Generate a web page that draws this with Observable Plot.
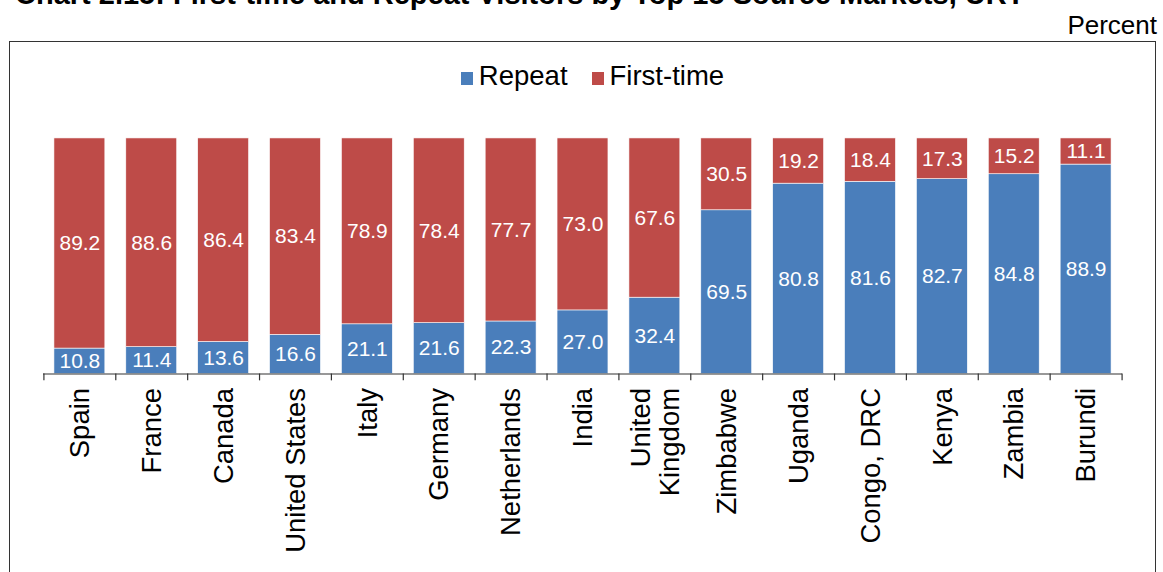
<!DOCTYPE html>
<html>
<head>
<meta charset="utf-8">
<script src="https://cdn.jsdelivr.net/npm/d3@7"></script>
<script src="https://cdn.jsdelivr.net/npm/@observablehq/plot@0.6"></script>
<style>
  html, body { margin: 0; padding: 0; background: #fff; }
  body { width: 1163px; height: 572px; position: relative; overflow: hidden; font-family: "Liberation Sans", Arial, Helvetica, sans-serif; }
  #title { position: absolute; left: 15px; top: -20px; font-size: 29px; line-height: 29px; font-weight: bold; white-space: nowrap; color: #000; }
  #unit { position: absolute; right: 6px; top: 10px; font-size: 26px; line-height: 30px; color: #000; }
  #frame { position: absolute; left: 9px; top: 41px; width: 1147px; height: 560px; border: 1.5px solid #333; box-sizing: border-box; }
  #legend { position: absolute; left: 10px; top: 19px; width: 100%; display: flex; justify-content: center; align-items: baseline; font-size: 27.5px; line-height: 30px; }
  #legend .item { display: flex; align-items: baseline; margin: 0 12px; }
  #legend .sw { display: inline-block; width: 12px; height: 13px; margin-right: 6px; }
  #chart { position: absolute; left: 1px; top: 58px; }
</style>
</head>
<body>
<div id="title">Chart 2.15: First-time and Repeat Visitors by Top 15 Source Markets, URT</div>
<div id="unit">Percent</div>
<div id="frame">
  <div id="legend"></div>
  <div id="chart"></div>
</div>
<script>
const countries = ["Spain", "France", "Canada", "United States", "Italy", "Germany", "Netherlands", "India", "United Kingdom", "Zimbabwe", "Uganda", "Congo, DRC", "Kenya", "Zambia", "Burundi"];
const axisLabels = ["Spain", "France", "Canada", "United States", "Italy", "Germany", "Netherlands", "India", "United\nKingdom", "Zimbabwe", "Uganda", "Congo, DRC", "Kenya", "Zambia", "Burundi"];
const repeat = [10.8, 11.4, 13.6, 16.6, 21.1, 21.6, 22.3, 27.0, 32.4, 69.5, 80.8, 81.6, 82.7, 84.8, 88.9];
const firstTime = [89.2, 88.6, 86.4, 83.4, 78.9, 78.4, 77.7, 73.0, 67.6, 30.5, 19.2, 18.4, 17.3, 15.2, 11.1];
const seriesNames = ["Repeat", "First-time"];
const seriesColors = ["#4a7ebb", "#be4b48"];

const rows = [];
countries.forEach((c, i) => rows.push({country: c, series: "Repeat", value: repeat[i], mid: repeat[i] / 2}));
countries.forEach((c, i) => rows.push({country: c, series: "First-time", value: firstTime[i], mid: repeat[i] + firstTime[i] / 2}));

// legend
const legend = document.getElementById("legend");
seriesNames.forEach((s, i) => {
  const it = document.createElement("div");
  it.className = "item";
  const sw = document.createElement("span");
  sw.className = "sw";
  sw.style.background = seriesColors[i];
  const t = document.createElement("span");
  t.textContent = s;
  it.appendChild(sw); it.appendChild(t);
  legend.appendChild(it);
});

const W = 1146, H = 472, mL = 32, mR = 33, mT = 38, mB = 198;
const step = (W - mL - mR) / countries.length;
const labelOf = new Map(countries.map((c, i) => [c, axisLabels[i]]));

const chart = Plot.plot({
  width: W,
  height: H,
  marginLeft: mL,
  marginRight: mR,
  marginTop: mT,
  marginBottom: mB,
  style: {fontFamily: "'Liberation Sans', Arial, Helvetica, sans-serif", background: "transparent", color: "#000", overflow: "visible"},
  x: {domain: countries, paddingInner: 0.29, paddingOuter: 0.145, axis: null},
  y: {domain: [0, 100], axis: null},
  color: {domain: seriesNames, range: seriesColors},
  marks: [
    Plot.barY(rows, {x: "country", y: "value", fill: "series", stroke: "#fff", strokeWidth: 0.6}),
    Plot.text(rows, {x: "country", y: "mid", text: d => d.value.toFixed(1), fill: "#fff", fontSize: 21}),
    Plot.ruleY([0], {stroke: "#333", strokeWidth: 1.2}),
    Plot.ruleX(countries, {x: d => d, y1: 0, y2: -2.9, dx: -step / 2, stroke: "#333", strokeWidth: 1.2}),
    Plot.ruleX(countries.slice(-1), {x: d => d, y1: 0, y2: -2.9, dx: step / 2, stroke: "#333", strokeWidth: 1.2}),
    Plot.axisX({tickSize: 0, tickPadding: 14, tickRotate: -90, fontSize: 27.5, lineHeight: 1.05, label: null, tickFormat: d => labelOf.get(d), fill: "#000"})
  ]
});
document.getElementById("chart").appendChild(chart);
</script>
</body>
</html>
